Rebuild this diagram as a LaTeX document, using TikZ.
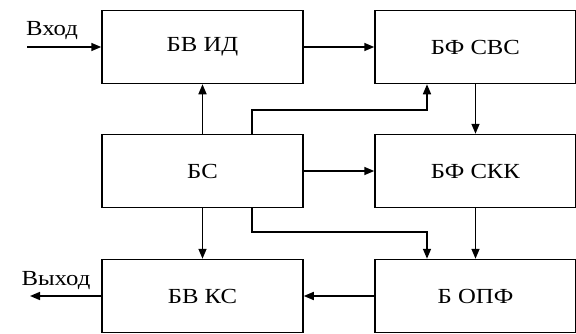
\documentclass[tikz,border=0pt]{standalone}
\usepackage{fontspec}
\setmainfont[FakeStretch=1.15]{Liberation Serif}
\usetikzlibrary{arrows.meta}
\begin{document}
\begin{tikzpicture}[x=1pt,y=-1pt,
  blk/.style={draw,line width=1.5pt,minimum width=201pt,minimum height=73pt,inner sep=0pt,font=\fontsize{21.5}{21.5}\selectfont},
  lbl/.style={inner sep=0pt,font=\fontsize{21.5}{21.5}\selectfont},
  conn/.style={line width=1.6pt,-{Triangle[length=10pt,width=8pt]}}]
\useasboundingbox (0,0) rectangle (576,333);
\node[blk] (bvid) at (202.5,47) {БВ ИД};
\node[blk] (bfsvs) at (475.5,47) {БФ СВС};
\node[blk] (bs) at (202.5,171) {БС};
\node[blk] (bfskk) at (475.5,171) {БФ СКК};
\node[blk] (bvks) at (202.5,296) {БВ КС};
\node[blk] (bopf) at (475.5,296) {Б ОПФ};
\coordinate (in) at (27,47);
\coordinate (out) at (30,296);
\node[lbl,anchor=base] (tin) at (52,35) {Вход};
\node[lbl,anchor=base] (tout) at (56,285) {Выход};
\draw[conn] (in) -- (bvid.west);
\draw[conn] (bvid.east) -- (bfsvs.west);
\draw[conn] (bs.north) -- (bvid.south);
\draw[conn] (bs.north -| 252,0) |- (427,110) -- (bfsvs.south -| 427,0);
\draw[conn] (bfsvs.south) -- (bfskk.north);
\draw[conn] (bs.east) -- (bfskk.west);
\draw[conn] (bs.south) -- (bvks.north);
\draw[conn] (bs.south -| 252,0) |- (427,232) -- (bopf.north -| 427,0);
\draw[conn] (bfskk.south) -- (bopf.north);
\draw[conn] (bopf.west) -- (bvks.east);
\draw[conn] (bvks.west) -- (out);
\end{tikzpicture}
\end{document}
